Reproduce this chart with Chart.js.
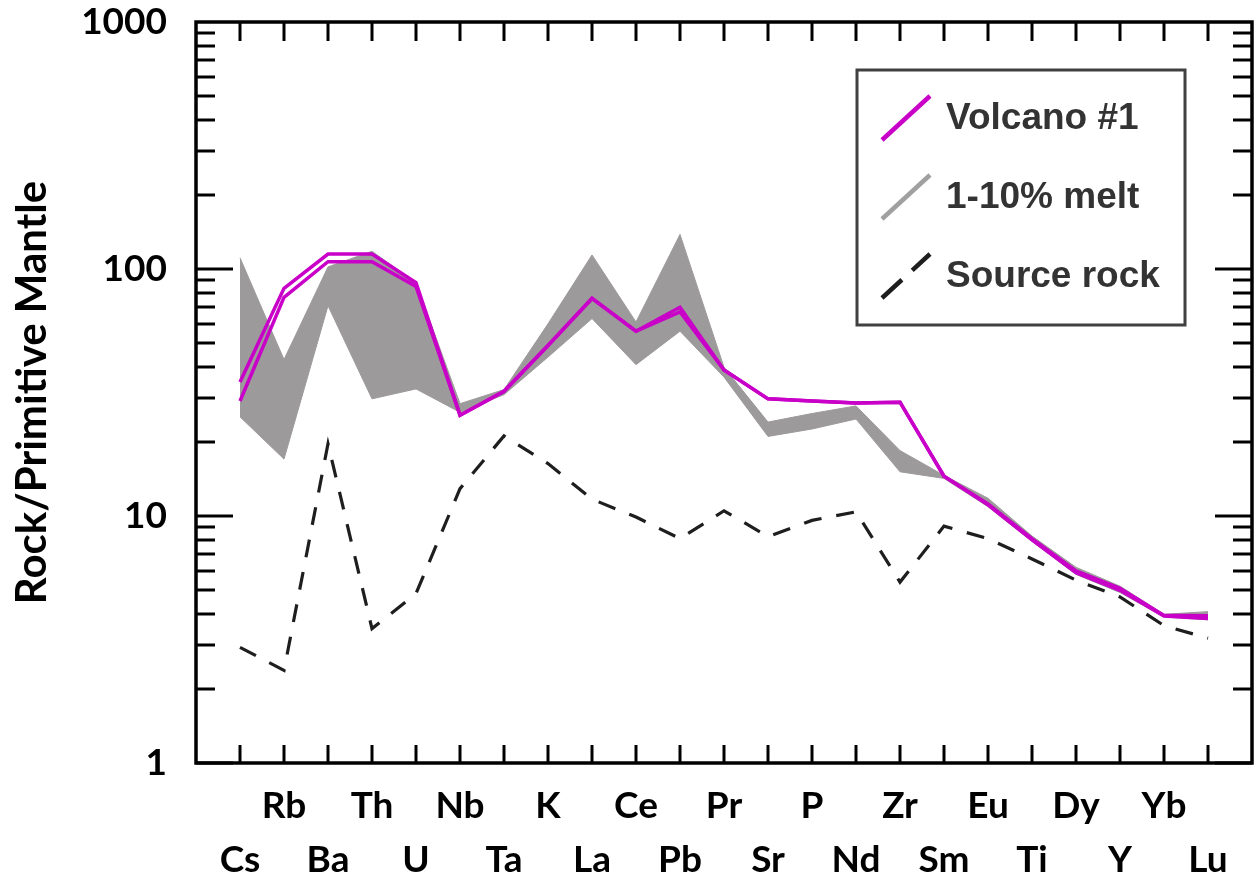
<!DOCTYPE html>
<html>
<head>
<meta charset="utf-8">
<script src="https://cdn.jsdelivr.net/npm/chart.js@4.4.1/dist/chart.umd.min.js"></script>
<style>
  html, body { margin: 0; padding: 0; background: #fff; }
</style>
</head>
<body>
<canvas id="spider" width="1257" height="880"></canvas>
<script>
const elements = ['Cs', 'Rb', 'Ba', 'Th', 'U', 'Nb', 'Ta', 'K', 'La', 'Ce', 'Pb', 'Pr', 'Sr', 'P', 'Nd', 'Zr', 'Sm', 'Eu', 'Ti', 'Dy', 'Y', 'Yb', 'Lu'];
const volcanoUpper = [34.9, 83.5, 115, 115, 88, 25.6, 32, 49, 76, 56, 70, 39, 29.8, 29.2, 28.7, 28.9, 14.5, 11.2, 8.1, 6.0, 5.1, 3.96, 3.95];
const volcanoLower = [29.2, 76.8, 107, 107, 85, 25.6, 32, 49, 76, 56, 67, 39, 29.8, 29.2, 28.7, 28.9, 14.5, 11.1, 8.0, 5.9, 5.0, 3.94, 3.85];
const meltMax = [111, 43, 102, 118, 88, 28.5, 32.5, 60, 114, 61, 138, 40, 24, 26, 27.9, 18.4, 14.6, 11.8, 8.3, 6.2, 5.2, 4.0, 4.1];
const meltMin = [25.2, 17.0, 71, 29.8, 32.7, 26.3, 31, 44, 63, 41, 56, 36.5, 21, 22.5, 24.7, 15.1, 14.2, 10.9, 7.9, 5.8, 4.9, 3.9, 3.8];
const sourceRock = [2.94, 2.37, 19.6, 3.5, 4.85, 12.9, 21.1, 16.3, 11.7, 9.9, 8.1, 10.5, 8.25, 9.6, 10.4, 5.4, 9.1, 8.1, 6.7, 5.5, 4.7, 3.6, 3.2];
const yTickLabels = [1, 10, 100, 1000];

const pts = arr => arr.map((v, i) => ({ x: i, y: v }));
const labelFont = { family: 'Lato', weight: 'bold', size: 37 };

// box, inward ticks on all four sides (majors longer on y)
const frameTicks = {
  id: 'frameTicks',
  afterDatasetsDraw(chart) {
    const { ctx, chartArea: a, scales: { x, y } } = chart;
    const seg = (x1, y1, x2, y2) => { ctx.beginPath(); ctx.moveTo(x1, y1); ctx.lineTo(x2, y2); ctx.stroke(); };
    ctx.save();
    ctx.strokeStyle = '#000';
    ctx.lineWidth = 3;
    elements.forEach((_, i) => {
      const px = x.getPixelForValue(i);
      seg(px, a.top, px, a.top + 19);
      seg(px, a.bottom, px, a.bottom - 18);
    });
    yTickLabels.slice(0, -1).forEach(d => {
      for (let k = 1; k <= 9; k++) {
        const py = Math.round(y.getPixelForValue(d * k));
        const len = k === 1 ? 37 : 19;
        seg(a.left, py, a.left + len, py);
        seg(a.right, py, a.right - len, py);
      }
    });
    ctx.lineWidth = 3.5;
    ctx.strokeRect(a.left, a.top, a.right - a.left, a.bottom - a.top);
    ctx.restore();
  }
};

const legendBox = {
  id: 'legendBox',
  afterDraw(chart) {
    const { ctx } = chart;
    const ds = chart.data.datasets;
    const entries = [
      { text: ds[0].label, color: '#c800c8', dash: [] },
      { text: ds[3].label, color: '#a0a0a0', dash: [] },
      { text: ds[2].label, color: '#1e1e1e', dash: [27, 14] }
    ];
    ctx.save();
    ctx.strokeStyle = '#404040';
    ctx.lineWidth = 3;
    ctx.strokeRect(857, 70, 328, 255);
    ctx.font = 'bold 37px "Liberation Sans", Arial, sans-serif';
    ctx.textBaseline = 'middle';
    ctx.fillStyle = '#333';
    entries.forEach((e, i) => {
      const cy = 118 + i * 79;
      ctx.strokeStyle = e.color;
      ctx.lineWidth = 4.5;
      ctx.setLineDash(e.dash);
      ctx.beginPath();
      ctx.moveTo(882, cy + 22);
      ctx.lineTo(930, cy - 22);
      ctx.stroke();
      ctx.setLineDash([]);
      ctx.fillText(e.text, 946, cy + 1);
    });
    ctx.restore();
  }
};

new Chart(document.getElementById('spider'), {
  type: 'line',
  data: {
    datasets: [
      { label: 'Volcano #1', data: pts(volcanoUpper), borderColor: '#c800c8', borderWidth: 3.5, fill: false },
      { label: 'Volcano #1 b', data: pts(volcanoLower), borderColor: '#c800c8', borderWidth: 3.5, fill: false },
      { label: 'Source rock', data: pts(sourceRock), borderColor: '#1e1e1e', borderWidth: 3.2, borderDash: [18, 15], fill: false },
      { label: '1-10% melt', data: pts(meltMax), borderColor: '#9c9a9a', borderWidth: 1, backgroundColor: '#9c9a9a', fill: '+1' },
      { label: '1-10% melt min', data: pts(meltMin), borderColor: '#9c9a9a', borderWidth: 1, fill: false }
    ]
  },
  options: {
    responsive: false,
    animation: false,
    devicePixelRatio: 1,
    layout: { padding: { left: 7, right: 5, top: 22, bottom: 0 } },
    elements: { point: { radius: 0 }, line: { tension: 0 } },
    plugins: { legend: { display: false }, tooltip: { enabled: false } },
    scales: {
      x: {
        type: 'linear',
        min: -1,
        max: 23,
        afterBuildTicks: s => { s.ticks = elements.map((_, i) => ({ value: i })); },
        afterFit: s => { s.height = 117; },
        grid: { display: false, drawTicks: false },
        border: { display: false },
        ticks: {
          autoSkip: false,
          maxRotation: 0,
          minRotation: 0,
          padding: 16,
          color: '#000',
          font: { ...labelFont, lineHeight: '54px' },
          callback: (v, i) => i % 2 ? [elements[i], ''] : ['', elements[i]]
        }
      },
      y: {
        type: 'logarithmic',
        min: 1,
        max: 1000,
        afterBuildTicks: s => { s.ticks = yTickLabels.map(v => ({ value: v })); },
        afterFit: s => { s.width = 189; s.paddingTop = 0; s.paddingBottom = 0; },
        grid: { display: false, drawTicks: false },
        border: { display: false },
        ticks: {
          padding: 29,
          color: '#000',
          font: { ...labelFont, lineHeight: 0.01 },
          callback: v => String(v)
        },
        title: {
          display: true,
          text: 'Rock/Primitive Mantle',
          color: '#000',
          padding: 0,
          font: { family: 'Lato', weight: 'bold', size: 42 }
        }
      }
    }
  },
  plugins: [frameTicks, legendBox]
});
</script>
</body>
</html>
